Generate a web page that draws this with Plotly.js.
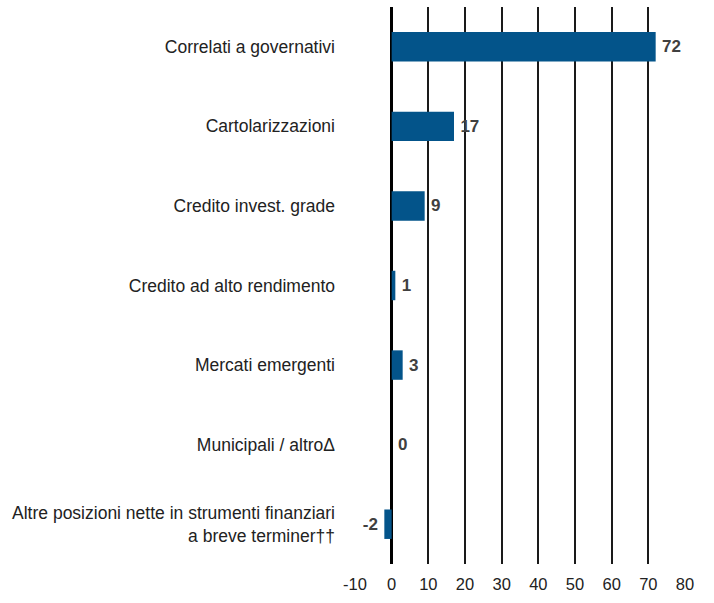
<!DOCTYPE html>
<html>
<head>
<meta charset="utf-8">
<script src="https://cdn.plot.ly/plotly-3.0.1.min.js"></script>
<style>html,body{margin:0;padding:0;background:#fff;}#chart{width:714px;height:603px;}</style>
</head>
<body>
<div id="chart"></div>
<script>
const categories = [
  "Correlati a governativi",
  "Cartolarizzazioni",
  "Credito invest. grade",
  "Credito ad alto rendimento",
  "Mercati emergenti",
  "Municipali / altro\u0394",
  "Altre posizioni nette in strumenti finanziari<br>a breve terminer\u2020\u2020"
];
const values = [72, 17, 9, 1, 3, 0, -2];
const valueLabels = ["72", "17", "9", "1", "3", "0", "-2"];
const xTicks = [-10, 0, 10, 20, 30, 40, 50, 60, 70, 80];

const trace = {
  type: 'bar',
  orientation: 'h',
  y: categories,
  x: values,
  text: valueLabels.map((t, i) => values[i] < 0 ? t + '\u2009' : '\u2009' + t),
  textposition: 'outside',
  cliponaxis: false,
  textfont: {family: 'Liberation Sans, Arial, sans-serif', size: 17, color: '#404040', weight: 'bold'},
  marker: {color: '#03548A'},
  hoverinfo: 'none'
};

const layout = {
  width: 714, height: 603,
  margin: {l: 355, r: 29, t: 7, b: 39},
  paper_bgcolor: '#fff', plot_bgcolor: '#fff',
  bargap: 0.63,
  showlegend: false,
  font: {family: 'Liberation Sans, Arial, sans-serif', size: 16, color: '#222'},
  xaxis: {
    range: [-10, 80],
    tickvals: xTicks,
    ticktext: xTicks.map(String),
    showgrid: true, gridcolor: '#1a1a1a', gridwidth: 2,
    zeroline: true, zerolinecolor: '#000', zerolinewidth: 2.5,
    showline: false, ticks: '', ticklabelstandoff: 8,
    tickfont: {size: 16.5, color: '#222'}
  },
  yaxis: {
    autorange: 'reversed',
    showgrid: false, zeroline: false, showline: false,
    ticks: '', ticklabelstandoff: 19,
    tickfont: {size: 17.5, color: '#222'}
  }
};

Plotly.newPlot('chart', [trace], layout, {staticPlot: true, displayModeBar: false});
</script>
</body>
</html>
